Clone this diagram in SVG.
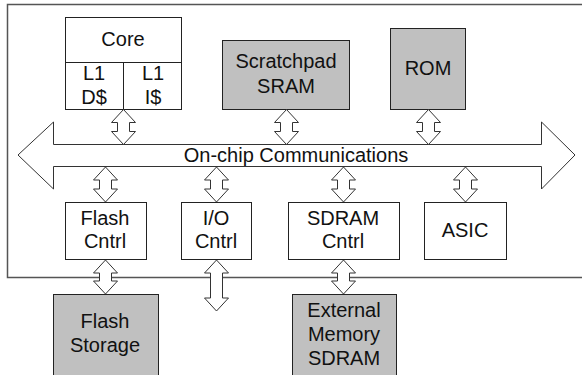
<svg xmlns="http://www.w3.org/2000/svg" width="582" height="375" viewBox="0 0 582 375">
<style>
text{font-family:"Liberation Sans",Arial,sans-serif;font-size:20px;fill:#111;text-anchor:middle}
.box{fill:#fff;stroke:#222;stroke-width:1}
.mem{fill:#c0c0c0;stroke:#222;stroke-width:1}
.arr{fill:#fff;stroke:#333;stroke-width:1;stroke-linejoin:miter}
.frame{fill:none;stroke:#555;stroke-width:1.5}
</style>
<rect width="582" height="375" fill="#fff"/>
<path class="frame" d="M584,4.5 H7.5 V277.5 H584"/>
<g id="core">
<rect class="box" x="65.5" y="17.5" width="116" height="92"/>
<line x1="65.5" y1="62.5" x2="181.5" y2="62.5" stroke="#222"/>
<line x1="123.5" y1="62.5" x2="123.5" y2="109.5" stroke="#222"/>
<text x="123" y="46">Core</text>
<text x="94" y="80">L1</text>
<text x="94" y="104">D$</text>
<text x="153" y="80">L1</text>
<text x="153" y="104">I$</text>
</g>
<g id="scratchpad">
<rect class="mem" x="222.5" y="40.5" width="127" height="69"/>
<text x="286" y="68">Scratchpad</text>
<text x="286" y="93">SRAM</text>
</g>
<g id="rom">
<rect class="mem" x="390.5" y="28.5" width="75" height="81"/>
<text x="428" y="75">ROM</text>
</g>
<g id="bus">
<path class="arr" d="M18,155 L53.5,122 V144.5 H541.5 V122 L575,155 L541.5,189 V166.5 H53.5 V189 Z"/>
<text x="296" y="162">On-chip Communications</text>
</g>
<g id="flash-cntrl">
<rect class="box" x="65.5" y="202.5" width="81" height="57"/>
<text x="105" y="225">Flash</text>
<text x="105" y="248">Cntrl</text>
</g>
<g id="io-cntrl">
<rect class="box" x="181.5" y="202.5" width="70" height="57"/>
<text x="216" y="225">I/O</text>
<text x="216" y="248">Cntrl</text>
</g>
<g id="sdram-cntrl">
<rect class="box" x="288.5" y="202.5" width="111" height="57"/>
<text x="343" y="225">SDRAM</text>
<text x="343" y="248">Cntrl</text>
</g>
<g id="asic">
<rect class="box" x="424.5" y="202.5" width="82" height="57"/>
<text x="465" y="237">ASIC</text>
</g>
<g id="flash-storage">
<rect class="mem" x="53.5" y="294.5" width="105" height="90"/>
<text x="105" y="328">Flash</text>
<text x="105" y="352">Storage</text>
</g>
<g id="ext-sdram">
<rect class="mem" x="292.5" y="294.5" width="104" height="90"/>
<text x="344" y="317">External</text>
<text x="344" y="341">Memory</text>
<text x="344" y="365">SDRAM</text>
</g>
<g id="connectors">
<path class="arr" d="M123.5,109.5 l12,13 h-6 v9 h6 l-12,13 l-12,-13 h6 v-9 h-6 Z"/>
<path class="arr" d="M286.5,109.5 l12,13 h-6 v9 h6 l-12,13 l-12,-13 h6 v-9 h-6 Z"/>
<path class="arr" d="M428.5,109.5 l12,13 h-6 v9 h6 l-12,13 l-12,-13 h6 v-9 h-6 Z"/>
<path class="arr" d="M105.5,167 l12,13 h-6 v9 h6 l-12,13 l-12,-13 h6 v-9 h-6 Z"/>
<path class="arr" d="M216.5,167 l12,13 h-6 v9 h6 l-12,13 l-12,-13 h6 v-9 h-6 Z"/>
<path class="arr" d="M343.5,167 l12,13 h-6 v9 h6 l-12,13 l-12,-13 h6 v-9 h-6 Z"/>
<path class="arr" d="M465.5,167 l12,13 h-6 v9 h6 l-12,13 l-12,-13 h6 v-9 h-6 Z"/>
<path class="arr" d="M105.5,260 l12,13 h-6 v8 h6 l-12,13 l-12,-13 h6 v-8 h-6 Z"/>
<path class="arr" d="M216.5,260 l12,13 h-6 v25 h6 l-12,13 l-12,-13 h6 v-25 h-6 Z"/>
<path class="arr" d="M343.5,260 l12,13 h-6 v8 h6 l-12,13 l-12,-13 h6 v-8 h-6 Z"/>
</g>
</svg>
